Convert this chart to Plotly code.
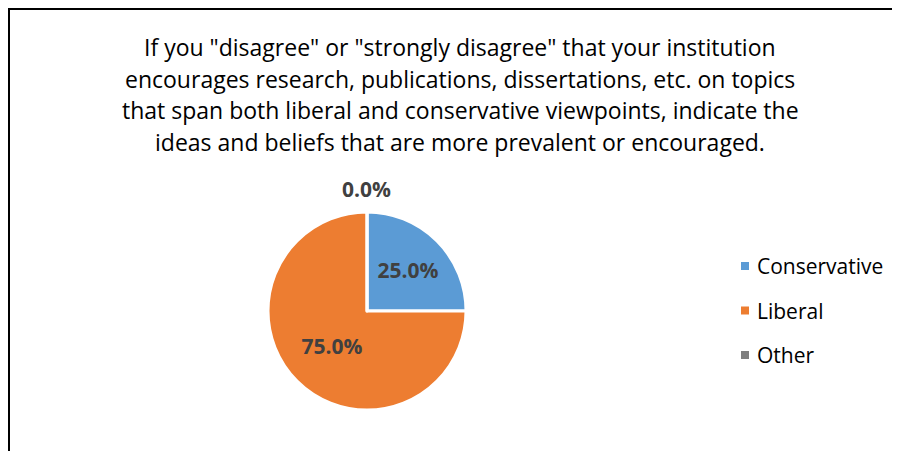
import plotly.graph_objects as go

title_lines = [
    'If you "disagree" or "strongly disagree" that your institution',
    "encourages research, publications, dissertations, etc. on topics",
    "that span both liberal and conservative viewpoints, indicate the",
    "ideas and beliefs that are more prevalent or encouraged.",
]
categories = ["Conservative", "Liberal", "Other"]
shares = [25.0, 75.0, 0.0]
colors = ["#5B9BD5", "#ED7D31", "#7F7F7F"]

W, H = 900, 451
OFF = 8  # page body margin the figure sits inside
FONT = "Open Sans, Lato, sans-serif"


def px(x):
    return (x - OFF) / W


def py(y):
    return 1 - (y - OFF) / H


fig = go.Figure(go.Pie(
    labels=categories,
    values=shares,
    sort=False,
    direction="clockwise",
    rotation=0,
    marker=dict(colors=colors, line=dict(color="white", width=3)),
    texttemplate="%{percent:.1%}",
    textposition="inside",
    insidetextorientation="horizontal",
    textfont=dict(family=FONT, size=21, color="#404040", weight="bold"),
    domain=dict(x=[px(268), px(466)], y=[py(410), py(212)]),
    showlegend=False,
    hoverinfo="label+percent",
))

annotations = []
# title, one annotation per line to match the spacing
for i, line in enumerate(title_lines):
    annotations.append(dict(
        x=px(460), y=py(47 + i * 31.7), xref="paper", yref="paper",
        text=line, showarrow=False, xanchor="center", yanchor="middle",
        font=dict(family=FONT, size=23, color="#000000"),
    ))

# zero slices get their label above the pie
total = sum(shares)
for cat, v in zip(categories, shares):
    if v == 0:
        annotations.append(dict(
            x=px(366), y=py(189), xref="paper", yref="paper",
            text=f"<b>{v / total:.1%}</b>", showarrow=False,
            font=dict(family=FONT, size=21, color="#404040"),
        ))

# chart frame (left and top edges are the visible ones)
shapes = [dict(type="rect", xref="paper", yref="paper",
               x0=px(9), x1=1.05, y0=-0.05, y1=py(9),
               line=dict(color="black", width=2), fillcolor="rgba(0,0,0,0)")]
# legend drawn by hand to get Excel's wide row spacing
for i, (cat, col) in enumerate(zip(categories, colors)):
    yc = 266 + i * 44.5
    shapes.append(dict(type="rect", xref="paper", yref="paper",
                       x0=px(741), x1=px(749), y0=py(yc + 4), y1=py(yc - 4),
                       fillcolor=col, line=dict(width=0)))
    annotations.append(dict(
        x=px(755), y=py(yc), xref="paper", yref="paper", text=cat,
        showarrow=False, xanchor="left", yanchor="middle",
        font=dict(family=FONT, size=21, color="#000000"),
    ))

fig.update_layout(
    width=W, height=H,
    margin=dict(l=0, r=0, t=0, b=0),
    paper_bgcolor="white",
    plot_bgcolor="white",
    annotations=annotations,
    shapes=shapes,
)

fig.write_html("out.html")
